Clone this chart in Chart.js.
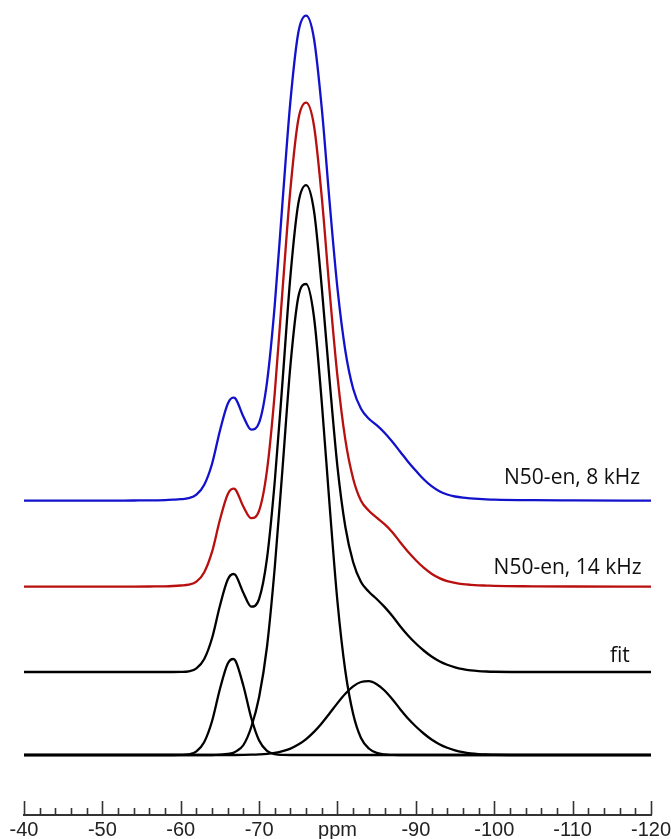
<!DOCTYPE html>
<html>
<head>
<meta charset="utf-8">
<script src="https://cdn.jsdelivr.net/npm/chart.js@4.4.1/dist/chart.umd.min.js"></script>
<style>
  html, body { margin: 0; padding: 0; background: #fff; }
  canvas { display: block; }
</style>
</head>
<body>
<canvas id="spectra" width="671" height="839"></canvas>
<script>
// chemical shift grid (ppm), shared by every trace
const ppm = [-40, -50, -54, -56, -57, -58, -59, -60, -61, -62, -63, -64, -65, -66, -66.7, -67,
  -68, -69, -70, -71, -72, -73, -74, -75, -76, -77, -78, -79, -80, -81, -82, -83, -84, -85,
  -86, -87, -88, -89, -90, -91, -92, -93, -94, -95, -96, -97, -98, -99, -100, -105, -110, -120];

// measured spectra, 8 kHz and 14 kHz spinning
const spec8k = [0, 0, 0.2, 0.3, 0.4, 0.6, 1, 1.5, 2.5, 6, 16, 37, 70, 97, 103, 102,
  84, 71, 78, 118, 196, 300, 400, 468, 485, 462, 392, 298, 212, 150, 112, 92, 82, 75.5,
  68, 59, 49, 39, 30, 21.5, 14.5, 9.5, 6.2, 4.2, 3, 2.3, 1.8, 1.4, 1.1, 0.5, 0.3, 0];
const spec14k = [0, 0, 0.1, 0.2, 0.3, 0.4, 0.7, 1.2, 2, 5, 14.5, 35, 67, 92.5, 98, 97,
  80, 68.5, 76, 116, 194, 298, 398, 467, 484, 461, 389, 295, 210, 147, 108, 86, 76, 69,
  62.5, 54.5, 44.5, 35, 26.5, 19, 13, 8.6, 5.6, 3.8, 2.6, 1.9, 1.4, 1.1, 0.8, 0.4, 0.2, 0];

// deconvolution: fitted envelope and its three components
const fitSum = [0, 0, 0, 0, 0, 0, 0, 0.1, 0.7, 3.6, 13, 34, 66.3, 92.5, 98, 96.8,
  79.1, 65.3, 73.1, 113.3, 191, 291.9, 396.4, 468.4, 486.9, 461.1, 383.8, 290.7, 204.9, 145.2, 109.7, 90, 80.3, 73,
  65.1, 56, 45.8, 36.5, 28.5, 21.5, 15.5, 10.8, 7.2, 4.6, 2.8, 1.6, 0.9, 0.5, 0.25, 0, 0, 0];
const compSmall = [0, 0, 0, 0, 0, 0, 0, 0.1, 0.7, 3.6, 13, 34, 66, 91.5, 96, 94,
  69, 37, 14.5, 4.2, 0.9, 0.1, 0, 0, 0, 0, 0, 0, 0, 0, 0, 0, 0, 0,
  0, 0, 0, 0, 0, 0, 0, 0, 0, 0, 0, 0, 0, 0, 0, 0, 0, 0];
const compMain = [0, 0, 0, 0, 0, 0, 0, 0, 0, 0, 0, 0, 0.3, 1, 2.2, 3.4,
  10, 28, 58, 108, 188, 288, 390, 458, 471, 438, 352, 249, 153, 84, 41, 17, 6.5, 2.2,
  0.6, 0.15, 0, 0, 0, 0, 0, 0, 0, 0, 0, 0, 0, 0, 0, 0, 0, 0];
const compShoulder = [0, 0, 0, 0, 0, 0, 0, 0, 0, 0, 0, 0, 0, 0, 0, 0,
  0.1, 0.3, 0.6, 1.1, 2.1, 3.8, 6.4, 10.4, 15.9, 23.1, 31.8, 41.7, 51.9, 61.2, 68.7, 73, 73.8, 70.8,
  64.5, 55.8, 45.8, 36.5, 28.5, 21.5, 15.5, 10.8, 7.2, 4.6, 2.8, 1.6, 0.9, 0.5, 0.25, 0, 0, 0];

// x axis
const tickValues = [-40, -50, -60, -70, -80, -90, -100, -110, -120];
const tickLabels = ['-40', '-50', '-60', '-70', 'ppm', '-90', '-100', '-110', '-120'];
const minorStep = 2;

// vertical stacking of the traces
const offsets = { spec8k: 254.3, spec14k: 168.3, fit: 83, comps: 0 };

const traceLabels = [
  { text: 'N50-en, 8 kHz', ppm: -118.6, y: offsets.spec8k + 17 },
  { text: 'N50-en, 14 kHz', ppm: -118.8, y: offsets.spec14k + 13 },
  { text: 'fit', ppm: -117.3, y: offsets.fit + 10.5 }
];

function trace(values, offset, color) {
  return {
    data: ppm.map((p, i) => ({ x: p, y: values[i] + offset })),
    borderColor: color,
    borderWidth: 2.3,
    pointRadius: 0,
    cubicInterpolationMode: 'monotone',
    fill: false
  };
}

// axis line with major/minor ticks pointing up
const ppmAxis = {
  id: 'ppmAxis',
  afterDraw(chart) {
    const { ctx, chartArea, scales: { x } } = chart;
    const y0 = chartArea.bottom;
    const x0 = x.getPixelForValue(tickValues[0]);
    const x1 = x.getPixelForValue(tickValues[tickValues.length - 1]);
    ctx.save();
    ctx.strokeStyle = '#333';
    ctx.lineWidth = 2;
    ctx.beginPath();
    ctx.moveTo(x0 - 1, y0);
    ctx.lineTo(x1 + 1, y0);
    ctx.stroke();
    ctx.lineWidth = 1.6;
    for (let v = tickValues[0]; v >= tickValues[tickValues.length - 1]; v -= minorStep) {
      const px = Math.round(x.getPixelForValue(v)) + 0.5;
      const len = v % 10 === 0 ? 14 : 7;
      ctx.beginPath();
      ctx.moveTo(px, y0);
      ctx.lineTo(px, y0 - len);
      ctx.stroke();
    }
    ctx.restore();
  }
};

const traceText = {
  id: 'traceText',
  afterDatasetsDraw(chart) {
    const { ctx, scales: { x, y } } = chart;
    ctx.save();
    ctx.font = '21px "Open Sans"';
    ctx.fillStyle = '#111';
    ctx.textAlign = 'right';
    ctx.textBaseline = 'alphabetic';
    traceLabels.forEach(l => {
      ctx.fillText(l.text, x.getPixelForValue(l.ppm), y.getPixelForValue(l.y));
    });
    ctx.restore();
  }
};

new Chart(document.getElementById('spectra'), {
  type: 'line',
  data: {
    datasets: [
      trace(spec8k, offsets.spec8k, '#1212CC'),
      trace(spec14k, offsets.spec14k, '#B80F0F'),
      trace(fitSum, offsets.fit, '#000'),
      trace(compSmall, offsets.comps, '#000'),
      trace(compMain, offsets.comps, '#000'),
      trace(compShoulder, offsets.comps, '#000')
    ]
  },
  options: {
    responsive: false,
    animation: false,
    devicePixelRatio: 1,
    // tick labels sit partly below the canvas edge
    layout: { padding: { left: 24, right: 20, top: 0, bottom: -6 } },
    plugins: { legend: { display: false }, tooltip: { enabled: false } },
    scales: {
      x: {
        type: 'linear',
        min: -120,
        max: -40,
        reverse: true,
        grid: { display: false, drawTicks: false },
        border: { display: false },
        afterBuildTicks: scale => { scale.ticks = tickValues.map(v => ({ value: v })); },
        ticks: {
          autoSkip: false,
          maxRotation: 0,
          padding: 0,
          color: '#222',
          font: { family: '"Liberation Sans", Arial, sans-serif', size: 20, lineHeight: 1.5 },
          callback: v => tickLabels[tickValues.indexOf(v)]
        }
      },
      y: {
        display: false,
        min: -60,
        max: 755
      }
    }
  },
  plugins: [ppmAxis, traceText]
});
</script>
</body>
</html>
